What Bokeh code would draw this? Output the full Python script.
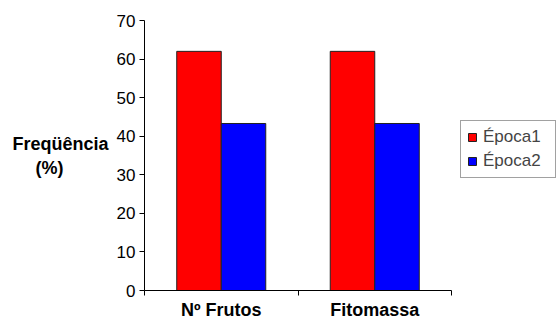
from bokeh.plotting import figure
from bokeh.models import Range1d, FixedTicker, Legend, LegendItem, ColumnDataSource
from bokeh.embed import file_html
from bokeh.resources import INLINE

# Data
categories = ["Nº Frutos", "Fitomassa"]
epoca1 = [62.0, 62.0]
epoca2 = [43.3, 43.3]
series_names = ["Época1", "Época2"]
y_ticks = [0, 10, 20, 30, 40, 50, 60, 70]

FONT = "Liberation Sans"
bar_w = 0.29
n = len(categories)

centers = [i + 0.5 for i in range(n)]
src1 = ColumnDataSource(dict(x=[c - bar_w / 2 for c in centers], top=epoca1))
src2 = ColumnDataSource(dict(x=[c + bar_w / 2 for c in centers], top=epoca2))

# the frame runs to the right canvas edge so the legend sits inside it;
# the x axis line itself is bounded to the categories
cat_px = 153.5
frame_w = 412
p = figure(
    x_range=Range1d(0, frame_w / cat_px), y_range=Range1d(0, 70),
    output_backend="svg", toolbar_location=None,
    min_border_left=144, min_border_top=20, min_border_bottom=30, min_border_right=0,
    frame_width=frame_w, frame_height=270,
)
p.outline_line_color = None
p.grid.visible = False
p.background_fill_color = "white"
p.border_fill_color = "white"

r1 = p.vbar(x="x", top="top", width=bar_w, bottom=0, source=src1,
            fill_color="#ff0000", line_color="#222222", line_width=1)
r2 = p.vbar(x="x", top="top", width=bar_w, bottom=0, source=src2,
            fill_color="#0000ff", line_color="#222222", line_width=1)

# y axis with a horizontal two-line title
ya = p.yaxis[0]
ya.ticker = FixedTicker(ticks=y_ticks)
ya.minor_tick_line_color = None
ya.major_tick_in = 0
ya.major_tick_out = 5
ya.axis_line_color = "black"
ya.major_tick_line_color = "black"
ya.major_label_text_font = FONT
ya.major_label_text_font_size = "17px"
ya.major_label_text_color = "black"
ya.major_label_standoff = 4
ya.axis_label = "Freqüência\n(%)" + "\u00a0" * 9
ya.axis_label_orientation = "horizontal"
ya.axis_label_text_font = FONT
ya.axis_label_text_font_size = "18px"
ya.axis_label_text_font_style = "bold"
ya.axis_label_text_color = "black"
ya.axis_label_standoff = 5

# x axis: labels at category centres, ticks at category boundaries
xa = p.xaxis[0]
xa.bounds = (0, n)
xa.ticker = FixedTicker(ticks=centers, minor_ticks=[float(i) for i in range(n + 1)])
xa.major_label_overrides = {c: name for c, name in zip(centers, categories)}
xa.major_tick_in = 0
xa.major_tick_out = 0
xa.minor_tick_in = 0
xa.minor_tick_out = 5
xa.minor_tick_line_color = "black"
xa.axis_line_color = "black"
xa.major_label_text_font = FONT
xa.major_label_text_font_size = "18px"
xa.major_label_text_font_style = "bold"
xa.major_label_text_color = "black"
xa.major_label_standoff = 4

# legend, positioned in screen px from the frame's lower-left corner
legend = Legend(items=[LegendItem(label=series_names[0], renderers=[r1]),
                       LegendItem(label=series_names[1], renderers=[r2])],
                label_text_font=FONT, label_text_font_size="17px",
                glyph_width=10, glyph_height=10, label_standoff=6,
                spacing=4, padding=6, margin=0,
                label_width=66, label_height=18,
                border_line_color="#444444", border_line_width=1,
                location=(316, 112))
p.add_layout(legend)

open("out.html", "w").write(file_html(p, INLINE))
